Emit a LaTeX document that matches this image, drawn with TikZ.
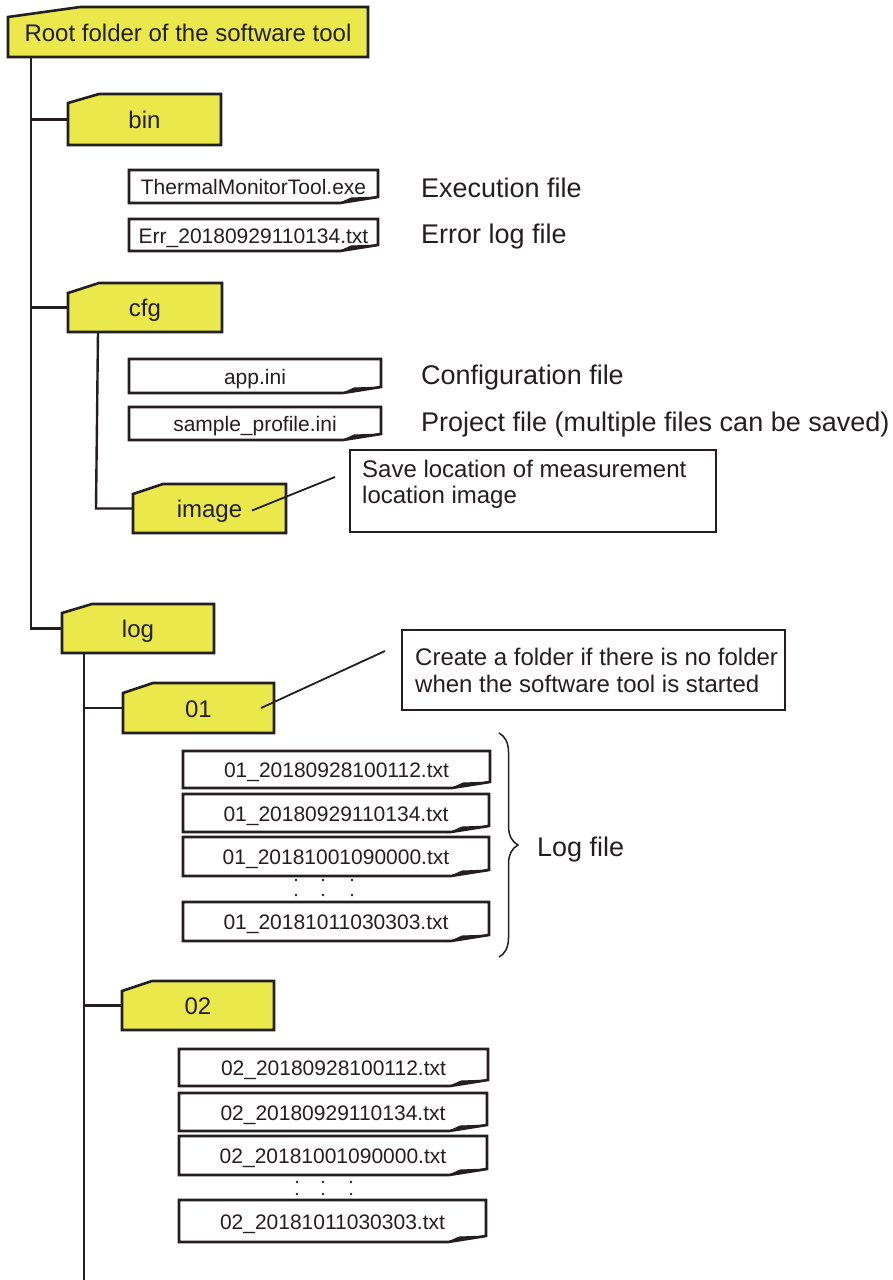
\documentclass[tikz,border=0pt]{standalone}
\usepackage{fontspec}
\setmainfont{Liberation Sans}
\usetikzlibrary{decorations.pathreplacing}
\definecolor{fyellow}{RGB}{234,232,74}
\definecolor{ink}{RGB}{35,31,32}
\tikzset{
  foldershape/.style={draw=ink, fill=fyellow, line width=2.6pt, line join=miter},
  fileshape/.style={draw=ink, fill=white, line width=2.6pt, line join=miter},
  foldlbl/.style={font=\fontsize{24}{27}\selectfont, text=ink, inner sep=0pt, anchor=base},
  filelbl/.style={font=\fontsize{21}{24}\selectfont, text=ink, inner sep=0pt, anchor=base},
  sidelbl/.style={font=\fontsize{27}{30}\selectfont, text=ink, inner sep=0pt, anchor=base west},
  notelbl/.style={font=\fontsize{24}{27}\selectfont, text=ink, inner sep=0pt, anchor=base west},
  tree/.style={draw=ink, line width=2.4pt},
  leader/.style={draw=ink, line width=1.8pt},
  notebox/.style={draw=ink, line width=1.6pt, fill=white, inner sep=0pt, outer sep=0pt, anchor=north west},
  bbox/.style={inner sep=0pt, outer sep=0pt, anchor=north west, draw=none},
  dotmark/.style={fill=ink},
}
% name, x1, ytop, x2, ybottom, slant dx, slant dy, text
\newcommand\mkfolder[8]{%
  \node[bbox, minimum width={(#4)-(#2)}, minimum height={(#5)-(#3)}] (#1) at (#2,#3) {};
  \filldraw[foldershape] (#2,#3+#7) -- (#2+#6,#3) -- (#4,#3) -- (#4,#5) -- (#2,#5) -- cycle;
  \node[foldlbl] (#1-t) at ({(#2+#4)/2},{(#3+#5)/2+9}) {#8};
}
% name, x1, ytop, x2, ybottom, text
\newcommand\mkfile[6]{%
  \node[bbox, minimum width={(#4)-(#2)}, minimum height={(#5)-(#3)}] (#1) at (#2,#3) {};
  \filldraw[fileshape] (#2,#3) -- (#4,#3) -- (#4,#5-6) -- (#4-38,#5) -- (#2,#5) -- cycle;
  \filldraw[ink, line width=1pt, line join=miter] (#4-38,#5) -- (#4-27,#5-5) -- (#4,#5-6) -- cycle;
  \node[filelbl] (#1-t) at ({(#2+#4)/2},{(#3+#5)/2+8}) {#6};
}
\begin{document}
\begin{tikzpicture}[x=1pt, y=-1pt]
\useasboundingbox (0,0) rectangle (893,1280);

% folders
\mkfolder{root}{8}{7}{368}{57}{72}{10}{Root folder of the software tool}
\mkfolder{bin}{68}{94}{221}{145}{31}{9}{bin}
\mkfolder{cfg}{68}{283}{222}{332}{31}{10}{cfg}
\mkfolder{image}{133}{484}{286}{533}{30}{10}{image}
\mkfolder{log}{62}{604}{214}{653}{30}{9}{log}
\mkfolder{f01}{123}{683}{274}{733}{30}{10}{01}
\mkfolder{f02}{122}{981}{274}{1030}{30}{10}{02}

% tree connectors
\coordinate (trunk) at ([xshift=23pt]root.south west);
\draw[tree] (trunk) -- (trunk |- log.west) -- (log.west);
\draw[tree] (trunk |- bin.west) -- (bin.west);
\draw[tree] (trunk |- cfg.west) -- (cfg.west);
\coordinate (cfgdrop) at ([xshift=30pt]cfg.south west);
\draw[tree] (cfgdrop) -- ([xshift=-2pt]cfgdrop |- image.west) -- (image.west);
\coordinate (logdrop) at ([xshift=22pt]log.south west);
\coordinate (logend) at (84,1280);
\draw[tree] (logdrop) -- (logdrop |- logend);
\draw[tree] (logdrop |- f01.west) -- (f01.west);
\draw[tree] (logdrop |- f02.west) -- (f02.west);

% files
\mkfile{exe}{129}{170}{378}{203}{ThermalMonitorTool.exe}
\mkfile{err}{129}{219}{378}{251}{Err\_20180929110134.txt}
\mkfile{app}{129}{359}{381}{393}{app.ini}
\mkfile{prof}{129}{407}{381}{440}{sample\_profile.ini}
\mkfile{la}{183}{751}{490}{788}{01\_20180928100112.txt}
\mkfile{lb}{183}{794}{489}{832}{01\_20180929110134.txt}
\mkfile{lc}{183}{837}{489}{876}{01\_20181001090000.txt}
\mkfile{ld}{183}{902}{489}{941}{01\_20181011030303.txt}
\mkfile{ma}{179}{1049}{488}{1086}{02\_20180928100112.txt}
\mkfile{mb}{179}{1093}{487}{1131}{02\_20180929110134.txt}
\mkfile{mc}{179}{1136}{487}{1175}{02\_20181001090000.txt}
\mkfile{md}{179}{1200}{486}{1242}{02\_20181011030303.txt}

% ellipsis dots
\foreach \dx in {296,323,352} {\foreach \dy in {880,895} {\fill[dotmark] (\dx,\dy) circle (1.4pt);}}
\foreach \dx in {297,323,351} {\foreach \dy in {1182,1194} {\fill[dotmark] (\dx,\dy) circle (1.4pt);}}

% side labels
\node[sidelbl] (lexe) at (421,197) {Execution file};
\node[sidelbl] (lerr) at (421,243) {Error log file};
\node[sidelbl] (lapp) at (421,384) {Configuration file};
\node[sidelbl] (lprof) at (421,431) {Project file (multiple files can be saved)};

% notes
\node[notebox, minimum width=366pt, minimum height=82pt] (note1) at (350,450) {};
\node[notelbl] (note1a) at (362,477) {Save location of measurement};
\node[notelbl] (note1b) at (362,503) {location image};
\coordinate (n1tip) at (335,477);
\draw[leader] ([xshift=-34pt,yshift=-2pt]image.east) -- (n1tip);

\node[notebox, minimum width=383pt, minimum height=80pt] (note2) at (402,630) {};
\node[notelbl] (note2a) at (415,665) {Create a folder if there is no folder};
\node[notelbl] (note2b) at (415,692) {when the software tool is started};
\coordinate (n2tip) at (385,651);
\draw[leader] ([xshift=-13pt]f01.east) -- (n2tip);

% brace
\coordinate (brtop) at (499,733);
\coordinate (brbot) at (499,957);
\draw[ink, line width=1.5pt, decorate, decoration={brace, amplitude=19pt}] (brtop) -- (brbot);
\node[sidelbl] (llog) at (537,856) {Log file};
\end{tikzpicture}
\end{document}
